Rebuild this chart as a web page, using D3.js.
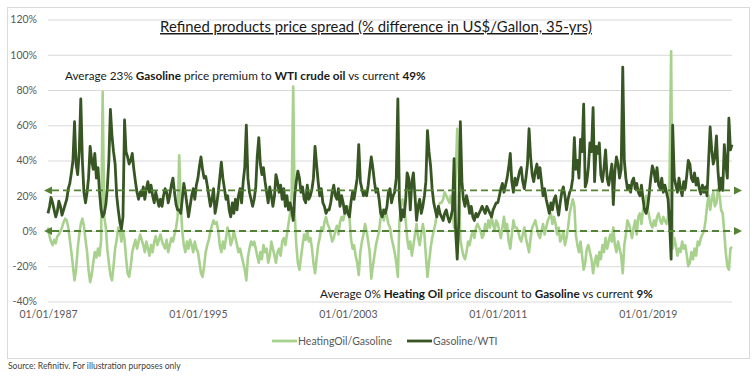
<!DOCTYPE html>
<html>
<head>
<meta charset="utf-8">
<script src="https://cdn.jsdelivr.net/npm/d3@7/dist/d3.min.js"></script>
<style>
body { margin: 0; background: #fff; }
svg text { font-family: Lato, "Open Sans", "Noto Sans", sans-serif; }
</style>
</head>
<body>
<div id="the_chart"></div>
<script>
// monthly values, Jan 1987 onwards (% difference in US$/gallon)
var startDate = new Date(1987, 0, 1);

var gasolineWti = [
    [10, 14, 19, 16, 12, 8, 11, 17, 14, 9, 12, 15],     // 1987
    [18, 24, 27, 33, 40, 62, 38, 32, 45, 75, 40, 22],
    [16, 22, 30, 48, 40, 35, 44, 30, 36, 22, 12, 8],
    [10, 15, 24, 40, 69, 54, 45, 38, 20, 12, 5, 1],     // 1990
    [8, 63, 45, 42, 38, 40, 44, 35, 28, 22, 18, 22],
    [20, 25, 18, 24, 28, 22, 26, 20, 16, 22, 18, 14],
    [18, 14, 20, 24, 22, 16, 20, 26, 30, 22, 15, 12],
    [12, 10, 18, 27, 22, 15, 8, 14, 20, 24, 18, 26],
    [30, 37, 42, 35, 30, 31, 26, 20, 14, 18, 24, 10],   // 1995
    [15, 22, 30, 39, 30, 24, 18, 20, 12, 8, 16, 10],
    [18, 12, 20, 24, 16, 28, 36, 60, 30, 22, 18, 14],
    [18, 25, 42, 53, 38, 32, 36, 28, 22, 16, 25, 20],
    [14, 20, 32, 28, 22, 26, 18, 24, 14, 20, 12, 16],
    [12, 6, 20, 28, 34, 30, 22, 25, 18, 16, 26, 18],    // 2000
    [20, 24, 30, 48, 38, 28, 20, 24, 16, 14, 10, 12],
    [12, 16, 22, 26, 20, 18, 24, 14, 20, 16, 10, 14],
    [10, 8, 16, 22, 18, 24, 30, 49, 28, 24, 20, 22],
    [20, 26, 34, 42, 36, 28, 22, 24, 18, 10, 8, 12],
    [10, 14, 22, 24, 16, 20, 22, 30, 75, 18, 6, 12],    // 2005
    [8, 18, 33, 30, 12, 28, 33, 20, 6, 14, 18, 10],
    [14, 20, 28, 57, 45, 37, 24, 16, 12, 8, 14, 10],
    [8, 6, 10, 12, 8, 5, 8, 12, 41, 0, -16, 5],
    [62, 28, 18, 14, 20, 16, 10, 14, 8, 6, 10, 8],
    [10, 12, 14, 12, 10, 14, 12, 10, 8, 12, 14, 16],    // 2010
    [16, 20, 24, 27, 22, 26, 30, 36, 44, 28, 22, 30],
    [26, 30, 34, 36, 28, 24, 30, 38, 58, 42, 32, 28],
    [34, 38, 30, 36, 28, 20, 24, 18, 14, 10, 16, 12],
    [18, 20, 14, 9, 16, 22, 25, 20, 12, 18, 22, 24],
    [30, 53, 35, 40, 30, 52, 45, 72, 25, 28, 36, 50],   // 2015
    [45, 70, 28, 48, 44, 50, 32, 28, 36, 46, 30, 26],
    [32, 38, 15, 34, 42, 38, 30, 35, 93, 40, 30, 24],
    [26, 22, 28, 30, 24, 27, 22, 20, 26, 18, 12, 10],
    [14, 22, 30, 37, 34, 28, 36, 26, 24, 30, 22, 26],
    [22, 18, 5, -16, 60, 30, 26, 22, 30, 24, 20, 28],   // 2020
    [24, 32, 40, 38, 30, 28, 33, 26, 30, 24, 21, 26],
    [22, 25, 20, 40, 59, 46, 38, 42, 54, 34, 23, 30],
    [23, 49, 38, 30, 64, 46, 49]
];

var heatingOilGasoline = [
    [2, -3, -6, -8, -5, -7, -3, -2, 0, 2, 5, 7],        // 1987
    [6, 2, -5, -12, -20, -28, -22, -10, -2, 4, 7, 3],
    [-5, -12, -22, -29, -25, -18, -12, -15, -10, -14, -5, 79],
    [8, 2, -10, -18, -25, -28, -20, -10, -5, 2, 0, -6], // 1990
    [0, -5, -15, -24, -26, -20, -12, -8, -5, -10, -6, -2],
    [-5, -8, -12, -6, -10, -14, -8, -12, -6, -3, -8, -5],
    [-2, -6, -8, -10, -5, -12, -8, -4, -6, -2, 2, 8],
    [43, 15, 0, -8, -12, -6, -10, -5, -8, -12, -6, -10],
    [-12, -18, -24, -26, -20, -12, -8, -5, 0, 3, 6, 4], // 1995
    [5, 0, -8, -12, -6, -10, -4, 2, -2, -8, -5, 0],
    [-4, -8, -12, -10, -14, -18, -22, -28, -15, -10, -6, -8],
    [-6, -10, -14, -18, -12, -16, -8, -12, -10, -18, -14, -6],
    [-10, -14, -18, -12, -10, -14, -6, -4, -8, -2, 4, 10],
    [20, 82, 10, -8, -18, -22, -15, -8, -2, -5, 0, -6], // 2000
    [-4, -10, -18, -24, -16, -8, -4, 2, 0, 5, 8, 4],
    [2, -2, -6, -4, 0, 3, -2, 5, 8, 6, 10, 12],
    [14, 8, -4, -10, -8, -14, -18, -25, -12, -6, -2, 4],
    [0, -6, -12, -27, -20, -14, -8, -4, 0, 8, 12, 6],
    [12, 8, 4, 2, -4, -8, -12, -18, -26, 5, 14, 18],    // 2005
    [15, 6, -4, -10, -6, -14, -8, -2, 4, -4, -8, -2],
    [4, -2, -14, -26, -18, -10, -4, 0, 4, 10, 14, 16],
    [16, 18, 22, 20, 18, 16, 20, 12, 2, 30, 58, 35],
    [-5, -10, -14, -16, -12, -6, -8, -3, 0, -4, 2, 4],
    [2, 0, -4, -2, 4, 0, 6, 2, 8, 4, 0, 6],             // 2010
    [4, 0, -4, 2, 8, 0, 4, -6, -10, -2, 6, 2],
    [2, 0, -4, -6, -2, 2, -4, -8, -12, -4, 2, 4],
    [6, 2, -2, -4, 0, 4, -2, 2, 6, 8, 10, 4],
    [8, 4, -2, 2, -6, -4, 0, -8, -4, 2, 10, 14],
    [18, 14, -2, -8, -12, -6, -14, -22, -18, -10, -8, -12], // 2015
    [-16, -24, -18, -14, -20, -12, -16, -8, -12, -4, -10, -6],
    [-2, -6, 2, -8, -12, -6, -10, -14, -24, -8, -2, 6],
    [4, 0, -4, 2, 6, -2, 8, 10, 4, 12, 16, 20],
    [12, 8, 4, 2, 6, 3, 8, 10, 6, 4, 8, 6],
    [4, 8, 30, 102, -10, -4, -8, -14, -10, -12, -6, -10], // 2020
    [-8, -14, -20, -18, -12, -16, -10, -14, -6, -8, -4, -2],
    [0, 6, 14, 20, 12, 18, 22, 14, 16, 24, 20, 12],
    [10, -1, -12, -20, -22, -10, -9]
];

var seriesNames = ["HeatingOil/Gasoline", "Gasoline/WTI"];
var averageLines = [23, 0];
var yTicks = [-40, -20, 0, 20, 40, 60, 80, 100, 120];
var xTickYears = [1987, 1995, 2003, 2011, 2019];

gen_vis();

// shrink or grow the font so a text spans the wanted width
function fitWidth(sel, size, width) {
    sel.style("font-size", size + "px");
    var len = sel.node().getComputedTextLength();
    sel.style("font-size", (size * width / len).toFixed(2) + "px");
}

function gen_vis() {
    var w = 756;
    var h = 386;
    var dark = "#375623";
    var light = "#a9d18e";
    var dashCol = "#548235";

    var gas = gasolineWti.flat();
    var ho = heatingOilGasoline.flat();
    var dates = gas.map(function(d, i) { return d3.timeMonth.offset(startDate, i); });

    var xscale = d3.scaleTime()
        .domain([startDate, dates[dates.length - 1]])
        .range([48, 732]);
    var yscale = d3.scaleLinear()
        .domain([-40, 120])
        .range([301.5, 19.5]);

    var svg = d3.select("#the_chart").append("svg")
        .attr("width", w)
        .attr("height", h);

    svg.append("rect")
        .attr("x", 7.5).attr("y", 7.5)
        .attr("width", 742).attr("height", 351)
        .attr("fill", "none")
        .attr("stroke", "#d9d9d9");

    var defs = svg.append("defs");
    defs.append("marker")
        .attr("id", "arrow")
        .attr("markerUnits", "userSpaceOnUse")
        .attr("markerWidth", 9).attr("markerHeight", 9)
        .attr("refX", 0).attr("refY", 4)
        .attr("orient", "auto-start-reverse")
        .append("path")
        .attr("d", "M0,0L8,4L0,8Z")
        .attr("fill", dashCol);

    // grid
    var yaxis = d3.axisLeft(yscale)
        .tickValues(yTicks)
        .tickSize(-(732 - 48))
        .tickFormat(function(d) { return d + "%"; });
    var gy = svg.append("g")
        .attr("transform", "translate(48,0)")
        .call(yaxis);
    gy.select(".domain").remove();
    gy.selectAll(".tick line").attr("stroke", "#d9d9d9");
    gy.selectAll(".tick text")
        .attr("x", -11)
        .attr("fill", "#595959")
        .style("font-size", "10.5px");

    var xaxis = d3.axisBottom(xscale)
        .tickValues(xTickYears.map(function(y) { return new Date(y, 0, 1); }))
        .tickSize(0)
        .tickFormat(d3.timeFormat("%d/%m/%Y"));
    var gx = svg.append("g")
        .attr("transform", "translate(0,308)")
        .call(xaxis);
    gx.select(".domain").remove();
    gx.selectAll(".tick text")
        .attr("fill", "#595959")
        .style("font-size", "10.5px");

    var line = d3.line()
        .x(function(d, i) { return xscale(dates[i]); })
        .y(function(d) { return yscale(d); });

    svg.append("path")
        .datum(ho)
        .attr("d", line)
        .attr("fill", "none")
        .attr("stroke", light)
        .attr("stroke-width", 2.6)
        .attr("stroke-linejoin", "round");

    svg.append("path")
        .datum(gas)
        .attr("d", line)
        .attr("fill", "none")
        .attr("stroke", dark)
        .attr("stroke-width", 2.8)
        .attr("stroke-linejoin", "round");

    // average lines with arrows both ends
    svg.selectAll(".avg")
        .data(averageLines)
        .enter().append("line")
        .attr("class", "avg")
        .attr("x1", 52).attr("x2", 734)
        .attr("y1", function(d) { return yscale(d); })
        .attr("y2", function(d) { return yscale(d); })
        .attr("stroke", dashCol)
        .attr("stroke-width", 1.8)
        .attr("stroke-dasharray", "7,4")
        .attr("marker-start", "url(#arrow)")
        .attr("marker-end", "url(#arrow)");

    // title
    var title = svg.append("text")
        .attr("x", 376).attr("y", 32)
        .attr("text-anchor", "middle")
        .style("text-decoration", "underline")
        .attr("fill", "#1a1a1a")
        .text("Refined products price spread (% difference in US$/Gallon, 35-yrs)");
    fitWidth(title, 15, 432);

    var t1 = svg.append("text")
        .attr("x", 65).attr("y", 79.5)
        .attr("fill", "#1a1a1a");
    t1.append("tspan").text("Average 23% ");
    t1.append("tspan").attr("font-weight", "bold").text("Gasoline");
    t1.append("tspan").text(" price premium to ");
    t1.append("tspan").attr("font-weight", "bold").text("WTI crude oil");
    t1.append("tspan").text(" vs current ");
    t1.append("tspan").attr("font-weight", "bold").text("49%");
    fitWidth(t1, 12.5, 361);

    var t2 = svg.append("text")
        .attr("x", 320).attr("y", 297.5)
        .attr("fill", "#1a1a1a");
    t2.append("tspan").text("Average 0% ");
    t2.append("tspan").attr("font-weight", "bold").text("Heating Oil");
    t2.append("tspan").text(" price discount to ");
    t2.append("tspan").attr("font-weight", "bold").text("Gasoline");
    t2.append("tspan").text(" vs current ");
    t2.append("tspan").attr("font-weight", "bold").text("9%");
    fitWidth(t2, 12.5, 333);

    // legend
    var legX = [272, 407];
    var legCol = [light, dark];
    var leg = svg.selectAll(".leg")
        .data(seriesNames)
        .enter().append("g")
        .attr("class", "leg")
        .attr("transform", function(d, i) { return "translate(" + legX[i] + ",341)"; });
    leg.append("line")
        .attr("x1", 0).attr("x2", 25)
        .attr("stroke", function(d, i) { return legCol[i]; })
        .attr("stroke-width", 2.8);
    leg.append("text")
        .attr("x", 26).attr("dy", "0.35em")
        .attr("fill", "#595959")
        .style("font-size", "10.5px")
        .text(function(d) { return d; });

    svg.append("text")
        .attr("x", 8).attr("y", 369)
        .attr("fill", "#404040")
        .style("font-size", "8.5px")
        .text("Source: Refinitiv. For illustration purposes only");
}
</script>
</body>
</html>
